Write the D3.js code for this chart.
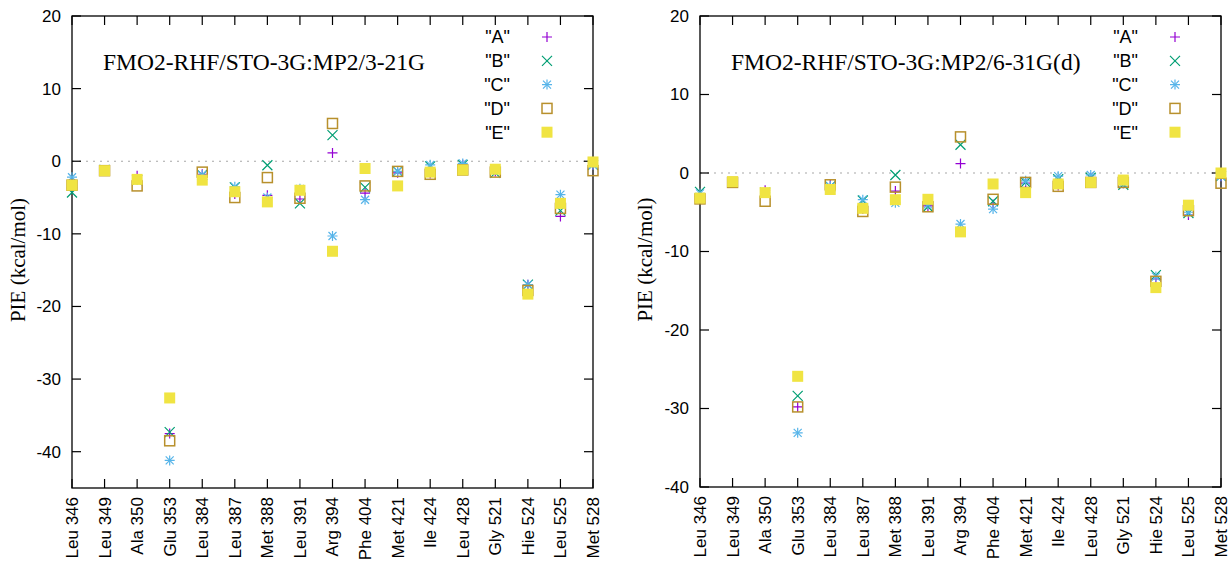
<!DOCTYPE html>
<html>
<head>
<meta charset="utf-8">
<script src="https://cdn.jsdelivr.net/npm/d3@7"></script>
<style>
  body { margin: 0; background: #fff; }
  svg text { fill: #000; }
</style>
</head>
<body>
<svg id="chart" width="1231" height="568"></svg>
<script>
// residues on the x axis
var residues = ["Leu 346", "Leu 349", "Ala 350", "Glu 353", "Leu 384", "Leu 387", "Met 388", "Leu 391",
    "Arg 394", "Phe 404", "Met 421", "Ile 424", "Leu 428", "Gly 521", "Hie 524", "Leu 525", "Met 528"];
var seriesNames = ['"A"', '"B"', '"C"', '"D"', '"E"'];

// left panel: 3-21G
var a321 = [-3.5, -1.2, -2.0, -37.5, -1.8, -4.5, -4.7, -5.2, 1.15, -4.4, -1.6, -1.7, -0.5, -1.4, -17.0, -7.6, -0.5];
var b321 = [-4.3, -1.2, -2.6, -37.3, -1.9, -3.6, -0.55, -5.8, 3.6, -3.6, -1.4, -0.7, -0.5, -1.6, -17.0, -6.8, -0.5];
var c321 = [-2.2, -1.2, -2.6, -41.2, -1.9, -3.5, -5.0, -3.8, -10.3, -5.3, -1.4, -0.5, -0.3, -1.2, -17.0, -4.6, -0.5];
var d321 = [-3.3, -1.3, -3.4, -38.5, -1.5, -5.0, -2.25, -5.1, 5.2, -3.4, -1.4, -1.8, -1.2, -1.5, -17.8, -6.5, -1.3];
var e321 = [-3.3, -1.3, -2.5, -32.6, -2.6, -4.2, -5.6, -4.0, -12.4, -1.0, -3.4, -1.5, -1.2, -1.1, -18.3, -5.8, -0.1];

// right panel: 6-31G(d)
var a631 = [-3.0, -1.2, -2.2, -29.8, -1.5, -4.6, -2.3, -4.2, 1.2, -4.0, -1.3, -1.6, -0.6, -1.3, -13.5, -5.35, -0.4];
var b631 = [-2.4, -1.2, -2.5, -28.4, -1.7, -3.5, -0.25, -4.3, 3.6, -3.6, -1.2, -0.8, -0.6, -1.5, -13.0, -5.1, -0.4];
var c631 = [-2.6, -1.2, -2.5, -33.1, -1.7, -3.4, -3.8, -4.0, -6.5, -4.6, -1.0, -0.4, -0.25, -1.3, -13.2, -5.0, -0.4];
var d631 = [-3.3, -1.2, -3.6, -29.8, -1.5, -4.9, -1.8, -4.3, 4.6, -3.35, -1.2, -1.7, -1.2, -1.2, -13.8, -4.8, -1.3];
var e631 = [-3.2, -1.1, -2.5, -25.9, -2.1, -4.5, -3.4, -3.35, -7.5, -1.4, -2.5, -1.4, -1.2, -0.9, -14.6, -4.1, 0.0];

var ticks321 = [20, 10, 0, -10, -20, -30, -40];
var ticks631 = [20, 10, 0, -10, -20, -30, -40];

var colors = ["#9400d3", "#009e73", "#56b4e9", "#b8902c", "#f0e442"];
var symbols = ["plus", "cross", "star", "square", "filled"];

var svg = d3.select("#chart");

function drawSymbol(g, kind, x, y, color) {
    var s = 5;
    if (kind == "plus" || kind == "star") {
        g.append("path").attr("d", `M${x - s},${y}H${x + s}M${x},${y - s}V${y + s}`)
            .attr("stroke", color).attr("stroke-width", 1.2).attr("fill", "none");
    }
    if (kind == "cross" || kind == "star") {
        var c = kind == "star" ? 4 : 5;
        g.append("path").attr("d", `M${x - c},${y - c}L${x + c},${y + c}M${x - c},${y + c}L${x + c},${y - c}`)
            .attr("stroke", color).attr("stroke-width", 1.2).attr("fill", "none");
    }
    if (kind == "square") {
        g.append("rect").attr("x", x - 5).attr("y", y - 5).attr("width", 10).attr("height", 10)
            .attr("stroke", color).attr("stroke-width", 1.5).attr("fill", "none");
    }
    if (kind == "filled") {
        g.append("rect").attr("x", x - 5.5).attr("y", y - 5.5).attr("width", 11).attr("height", 11)
            .attr("fill", color);
    }
}

function panel(opt) {
    var g = svg.append("g");
    var x = d3.scaleLinear().domain([0, residues.length - 1]).range([opt.left, opt.right]);
    var y = d3.scaleLinear().domain(opt.ydomain).range([opt.bottom, opt.top]);

    // zero line
    g.append("line")
        .attr("x1", opt.left).attr("x2", opt.right)
        .attr("y1", y(0)).attr("y2", y(0))
        .attr("stroke", "#a8a8a8").attr("stroke-width", 1.2)
        .attr("stroke-dasharray", "2,5");

    // y ticks (both sides, inward)
    opt.yticks.forEach(function (t) {
        g.append("line").attr("x1", opt.left).attr("x2", opt.left + 9)
            .attr("y1", y(t)).attr("y2", y(t)).attr("stroke", "#000").attr("stroke-width", 1.2);
        g.append("line").attr("x1", opt.right).attr("x2", opt.right - 9)
            .attr("y1", y(t)).attr("y2", y(t)).attr("stroke", "#000").attr("stroke-width", 1.2);
        g.append("text").attr("x", opt.left - 11).attr("y", y(t))
            .attr("dy", "0.35em").attr("text-anchor", "end")
            .style("font-family", "Liberation Sans, Arial, sans-serif").style("font-size", "17px")
            .text(t);
    });

    // x ticks (top + bottom, inward) and rotated labels
    residues.forEach(function (r, i) {
        g.append("line").attr("x1", x(i)).attr("x2", x(i))
            .attr("y1", opt.bottom).attr("y2", opt.bottom - 9).attr("stroke", "#000").attr("stroke-width", 1.2);
        g.append("line").attr("x1", x(i)).attr("x2", x(i))
            .attr("y1", opt.top).attr("y2", opt.top + 9).attr("stroke", "#000").attr("stroke-width", 1.2);
        g.append("text")
            .attr("transform", `translate(${x(i)},${opt.bottom + 9}) rotate(-90)`)
            .attr("dy", "0.35em").attr("text-anchor", "end")
            .style("font-family", "Liberation Sans, Arial, sans-serif").style("font-size", "17px")
            .text(r);
    });

    // border
    g.append("rect").attr("x", opt.left).attr("y", opt.top)
        .attr("width", opt.right - opt.left).attr("height", opt.bottom - opt.top)
        .attr("fill", "none").attr("stroke", "#000").attr("stroke-width", 1.3);

    // y label
    g.append("text")
        .attr("transform", `translate(${opt.ylabelX},${(opt.top + opt.bottom) / 2 + 8}) rotate(-90)`)
        .attr("text-anchor", "middle").attr("dy", "0.35em")
        .style("font-family", "Liberation Serif, Times New Roman, serif").style("font-size", "21px")
        .text("PIE (kcal/mol)");

    // title
    g.append("text").attr("x", opt.titleX).attr("y", 70)
        .style("font-family", "Liberation Serif, Times New Roman, serif").style("font-size", "23.5px")
        .text(opt.title);

    // points
    opt.series.forEach(function (vals, s) {
        var pg = g.append("g");
        vals.forEach(function (v, i) {
            drawSymbol(pg, symbols[s], x(i), y(v), colors[s]);
        });
    });

    // legend
    seriesNames.forEach(function (name, s) {
        var ly = 37 + s * 23.8;
        g.append("text").attr("x", opt.legendX).attr("y", ly).attr("dy", "0.35em")
            .attr("text-anchor", "end")
            .style("font-family", "Liberation Sans, Arial, sans-serif").style("font-size", "18px")
            .text(name);
        drawSymbol(g, symbols[s], opt.legendX + 37, ly, colors[s]);
    });
}

panel({
    left: 72, right: 593, top: 16, bottom: 488,
    ydomain: [-45, 20], yticks: ticks321, ylabelX: 18,
    title: "FMO2-RHF/STO-3G:MP2/3-21G", titleX: 103, legendX: 510,
    series: [a321, b321, c321, d321, e321]
});

panel({
    left: 700, right: 1221, top: 16, bottom: 487,
    ydomain: [-40, 20], yticks: ticks631, ylabelX: 645,
    title: "FMO2-RHF/STO-3G:MP2/6-31G(d)", titleX: 731, legendX: 1138,
    series: [a631, b631, c631, d631, e631]
});
</script>
</body>
</html>
